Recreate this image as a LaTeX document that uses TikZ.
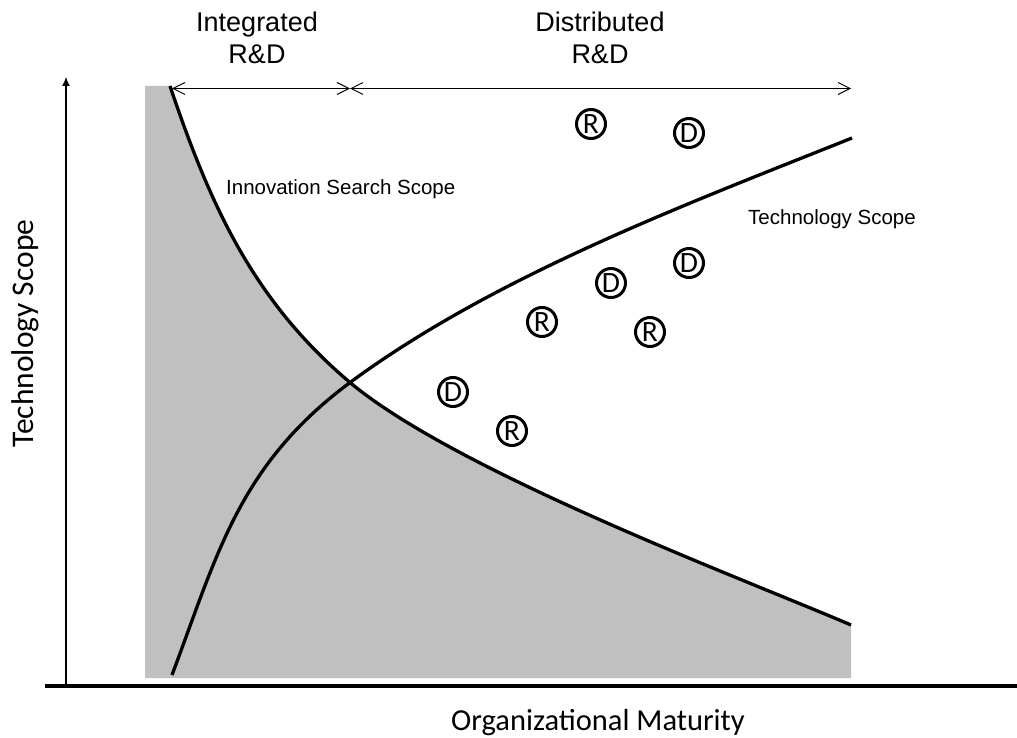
\documentclass[tikz,border=0pt]{standalone}
\usepackage{fontspec}
\setmainfont{Liberation Sans}
\newfontfamily\calibrifont{Carlito}
\usetikzlibrary{arrows.meta}
\definecolor{shadegray}{HTML}{C0C0C0}
\begin{document}
\begin{tikzpicture}[x=1pt,y=-1pt,
  curve/.style={line width=3.3pt, line join=round},
  dimline/.style={line width=0.9pt, {Straight Barb[length=12pt,width=12pt]}-{Straight Barb[length=12pt,width=12pt]}},
  hdr/.style={align=center, inner sep=0pt, font=\fontsize{27}{32}\selectfont},
  curvelabel/.style={anchor=base west, inner sep=0pt, font=\fontsize{20.5}{24}\selectfont},
  axislabel/.style={inner sep=0pt, font=\calibrifont\fontsize{31}{36}\selectfont},
  firm/.style={circle, draw, line width=3pt, minimum size=29pt, inner sep=0pt, font=\calibrifont\fontsize{29.5}{30}\selectfont}
]
\useasboundingbox (0,0) rectangle (1017,738);
% shaded region below the innovation search scope curve
\fill[shadegray] (145,86) -- (170,86) .. controls (209.6,203.4) and (252.3,300) .. (350,382)
   .. controls (457,471.9) and (744,579) .. (851,625) -- (851,678) -- (145,678) -- cycle;
% axes
\coordinate (xs) at (45,686);
\coordinate (xe) at (1017,686);
\coordinate (ys) at (66,686);
\coordinate (ye) at (66,77);
\draw[line width=1.2pt, -{Latex[length=9pt,width=8pt]}] (ys) -- (ye);
\draw[line width=4.5pt] (xs) -- (xe);
% innovation search scope curve
\coordinate (iss0) at (170,86);
\coordinate (cross) at (350,382.5);
\coordinate (iss1) at (851,625);
\draw[curve] (iss0) .. controls (209.6,203.4) and (252.3,300) .. (cross)
   .. controls (457,471.9) and (744,579) .. (iss1);
% technology scope curve
\coordinate (ts0) at (172,675);
\coordinate (ts1) at (852,138);
\draw[curve] (ts0) .. controls (217.8,553.1) and (238.9,465.2) .. (cross)
   .. controls (494.7,275.9) and (685,204.8) .. (ts1);
% dimension arrows
\coordinate (dl) at (172,88.5);
\coordinate (dm) at (350,88.5);
\coordinate (dr) at (851,88.5);
\draw[dimline] (dl) -- (dm);
\draw[dimline] (dm) -- (dr);
% headers
\node[hdr] (integ) at (257,37.6) {Integrated\\R\&D};
\node[hdr] (distr) at (600,38) {Distributed\\R\&D};
% curve labels
\node[curvelabel] (isslabel) at (226,195) {Innovation Search Scope};
\node[curvelabel] (tslabel) at (748,225) {Technology Scope};
% axis labels
\node[axislabel, rotate=90, anchor=base, font=\calibrifont\fontsize{31.5}{36}\selectfont] (ylab) at (33,333.5) {Technology Scope};
\node[axislabel, anchor=base, font=\calibrifont\fontsize{30.5}{36}\selectfont] (xlab) at (598,730) {Organizational Maturity};
% firms
\node[firm] (r1) at (591,124) {R};
\node[firm] (d1) at (689,133) {D};
\node[firm] (d2) at (689,263) {D};
\node[firm] (d3) at (611,283) {D};
\node[firm] (r2) at (542,322) {R};
\node[firm] (r3) at (650,332) {R};
\node[firm] (d4) at (453,392) {D};
\node[firm] (r4) at (512,431) {R};
\end{tikzpicture}
\end{document}
